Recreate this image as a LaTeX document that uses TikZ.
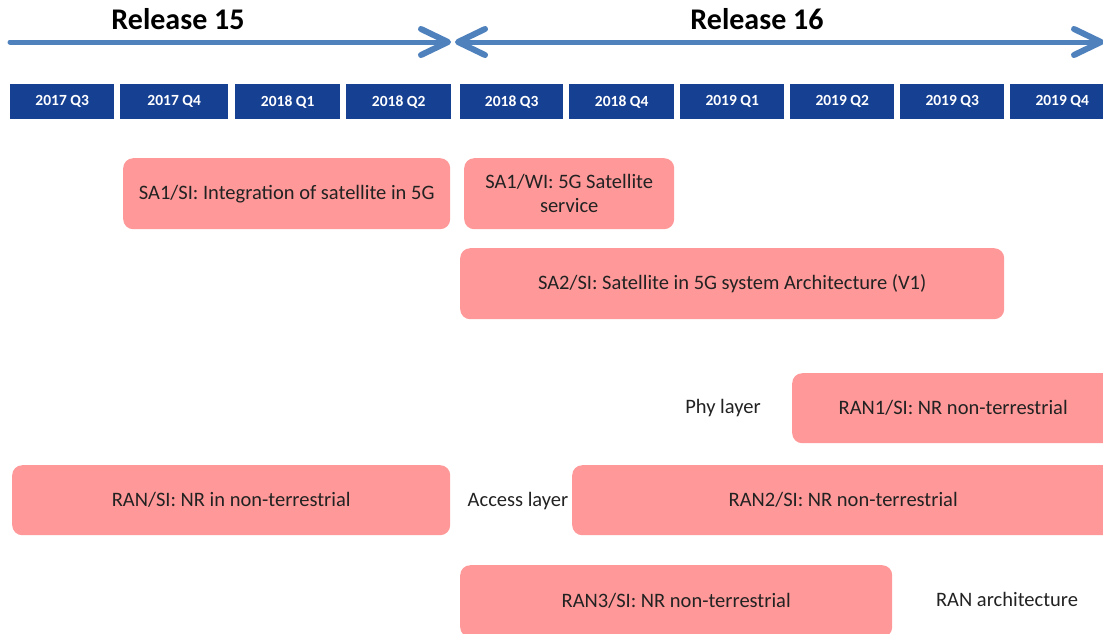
\documentclass[tikz,border=0pt]{standalone}
\usepackage{fontspec}
\setmainfont{Carlito}
\usetikzlibrary{calc}
\definecolor{qblue}{RGB}{22,64,146}
\definecolor{relblue}{RGB}{79,129,189}
\definecolor{itempink}{RGB}{255,153,153}
\definecolor{textgray}{RGB}{34,34,34}
\begin{document}
\begin{tikzpicture}[x=1pt, y=-1pt,
	quarter/.style={fill=qblue, text=white, font=\bfseries\fontsize{15.5}{18}\selectfont, minimum height=35pt, inner sep=0pt, anchor=north west},
	item/.style={fill=itempink, rounded corners=10pt, text=textgray, font=\fontsize{20.5}{24}\selectfont, align=center, inner sep=0pt, anchor=north west},
	note/.style={text=textgray, font=\fontsize{20.5}{24}\selectfont, inner sep=0pt},
	reltext/.style={text=black, font=\bfseries\fontsize{30}{34}\selectfont, inner sep=0pt},
	relarrow/.style={draw=relblue, line width=5pt, line cap=round, line join=round}]
	\useasboundingbox (0,0) rectangle (1103,633);
	\clip (0,0) rectangle (1103,633);

	% release arrows
	\node[reltext] (rel15) at (178,19) {Release 15};
	\node[reltext] (rel16) at (757,19) {Release 16};
	\coordinate (r15w) at (10,42);
	\coordinate (r15e) at (448,42);
	\coordinate (r16w) at (458,42);
	\coordinate (r16e) at (1101,42);
	\draw[relarrow] (r15w) -- (r15e);
	\draw[relarrow] (r16w) -- (r16e);
	\draw[relarrow, line width=6pt] ($(r15e)+(-27,-13)$) -- (r15e) -- ($(r15e)+(-27,13)$);
	\draw[relarrow, line width=6pt] ($(r16w)+(27,-13)$) -- (r16w) -- ($(r16w)+(27,13)$);
	\draw[relarrow, line width=6pt] ($(r16e)+(-27,-13)$) -- (r16e) -- ($(r16e)+(-27,13)$);

	% quarters
	\foreach \x/\w/\lab [count=\i] in {10/104/2017 Q3, 120/108/2017 Q4, 235/105/2018 Q1, 346/105/2018 Q2, 460/103/2018 Q3, 569/105/2018 Q4, 680/104/2019 Q1, 790/104/2019 Q2, 900/104/2019 Q3, 1010/104/2019 Q4}
		\node[quarter, minimum width=\w pt] (q\i) at (\x,84) {\lab};

	% study and work items
	\node[item, minimum width=327pt, minimum height=71pt] (sa1si) at (123,158) {SA1/SI: Integration of satellite in 5G};
	\node[item, minimum width=210pt, minimum height=71pt] (sa1wi) at (464,158) {SA1/WI: 5G Satellite\\service};
	\node[item, minimum width=544pt, minimum height=71pt] (sa2si) at (460,248) {SA2/SI: Satellite in 5G system Architecture (V1)};
	\node[item, minimum width=322pt, minimum height=70pt] (ran1si) at (792,373) {RAN1/SI: NR non-terrestrial};
	\node[item, minimum width=438pt, minimum height=70pt] (ransi) at (12,465) {RAN/SI: NR in non-terrestrial};
	\node[item, minimum width=542pt, minimum height=70pt] (ran2si) at (572,465) {RAN2/SI: NR non-terrestrial};
	\node[item, minimum width=432pt, minimum height=72pt] (ran3si) at (460,565) {RAN3/SI: NR non-terrestrial};

	% working group notes
	\node[note] (phy) at (723,408) {Phy layer};
	\node[note] (access) at (518,501) {Access layer};
	\node[note] (ranarch) at (1007,599) {RAN architecture};
\end{tikzpicture}
\end{document}
